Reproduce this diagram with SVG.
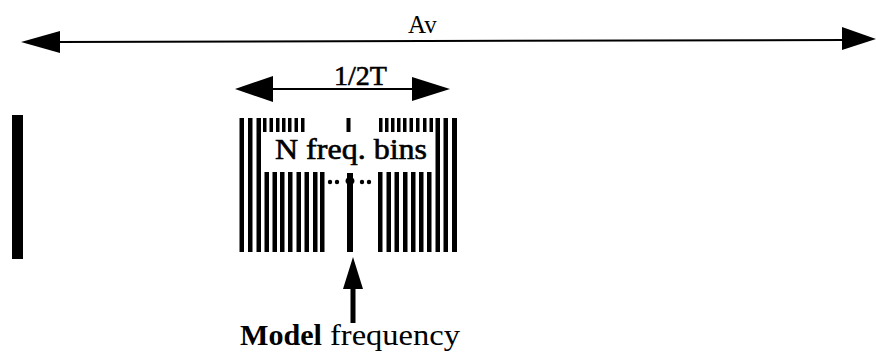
<svg xmlns="http://www.w3.org/2000/svg" width="876" height="354" viewBox="0 0 876 354">
<style>
.t{font-family:"Liberation Serif","Times New Roman",serif;fill:#000}
.h{stroke:#000;stroke-width:0.6}
.ln{stroke:#000;stroke-width:2;fill:none}
.b{fill:#000}
</style>
<rect width="876" height="354" fill="#fff"/>
<g id="connectors">
  <line class="ln" x1="58" y1="42" x2="845" y2="40"/>
  <polygon class="b" points="21,42 60,31 60,53"/>
  <polygon class="b" points="876,39 842,27 842,50"/>
  <line class="ln" x1="270" y1="89" x2="415" y2="89"/>
  <polygon class="b" points="235,89 273,76 273,102"/>
  <polygon class="b" points="450,89 412,77 412,101"/>
  <rect class="b" x="350.5" y="284" width="5" height="39"/>
  <polygon class="b" points="353,257 343,289 363,289"/>
</g>
<g id="av-label"><text class="t" x="408" y="33" font-size="25">Av</text></g>
<g id="half-t-label"><text class="t h" x="334" y="85" font-size="28">1/2T</text></g>
<g id="left-bar"><rect class="b" x="12" y="115" width="11" height="144"/></g>
<g id="bins">
  <!-- full-height outer bars -->
  <rect class="b" x="239.5" y="118" width="4.5" height="134"/>
  <rect class="b" x="248" y="118" width="4.5" height="134"/>
  <rect class="b" x="256.5" y="118" width="4.5" height="134"/>
  <rect class="b" x="435.5" y="118" width="4.5" height="134"/>
  <rect class="b" x="443.5" y="118" width="4.5" height="134"/>
  <rect class="b" x="452" y="118" width="5" height="134"/>
  <!-- top short bars -->
  <g>
    <rect class="b" x="263" y="118" width="3.5" height="14"/>
    <rect class="b" x="269.5" y="118" width="3.5" height="14"/>
    <rect class="b" x="276" y="118" width="3.5" height="14"/>
    <rect class="b" x="282" y="118" width="3.5" height="14"/>
    <rect class="b" x="288" y="118" width="3.5" height="14"/>
    <rect class="b" x="294.5" y="118" width="3.5" height="14"/>
    <rect class="b" x="301" y="118" width="3.5" height="14"/>
    <rect class="b" x="346.5" y="118" width="4" height="14"/>
    <rect class="b" x="379" y="118" width="3.5" height="14"/>
    <rect class="b" x="385" y="118" width="3.5" height="14"/>
    <rect class="b" x="391" y="118" width="3.5" height="14"/>
    <rect class="b" x="397" y="118" width="3.5" height="14"/>
    <rect class="b" x="403" y="118" width="3.5" height="14"/>
    <rect class="b" x="409.5" y="118" width="3.5" height="14"/>
    <rect class="b" x="416" y="118" width="3.5" height="14"/>
    <rect class="b" x="423" y="118" width="3.5" height="14"/>
    <rect class="b" x="429.5" y="118" width="3.5" height="14"/>
  </g>
  <!-- lower bars -->
  <g>
    <rect class="b" x="264.5" y="172" width="4.5" height="80"/>
    <rect class="b" x="272.5" y="172" width="4.5" height="80"/>
    <rect class="b" x="280" y="172" width="4.5" height="80"/>
    <rect class="b" x="288" y="172" width="4.5" height="80"/>
    <rect class="b" x="296.5" y="172" width="4.5" height="80"/>
    <rect class="b" x="304.5" y="172" width="4.5" height="80"/>
    <rect class="b" x="313" y="172" width="4.5" height="80"/>
    <rect class="b" x="320" y="172" width="4.5" height="80"/>
    <rect class="b" x="378" y="172" width="4.5" height="80"/>
    <rect class="b" x="386.5" y="172" width="4.5" height="80"/>
    <rect class="b" x="394.5" y="172" width="4.5" height="80"/>
    <rect class="b" x="403" y="172" width="4.5" height="80"/>
    <rect class="b" x="411" y="172" width="4.5" height="80"/>
    <rect class="b" x="419" y="172" width="4.5" height="80"/>
    <rect class="b" x="427" y="172" width="4.5" height="80"/>
  </g>
  <!-- model-frequency bar -->
  <rect class="b" x="347" y="173" width="6" height="79"/>
  <ellipse class="b" cx="350" cy="181" rx="4.5" ry="4"/>
  <!-- dots -->
  <circle class="b" cx="330" cy="182" r="2.2"/>
  <circle class="b" cx="337" cy="182" r="2.2"/>
  <circle class="b" cx="362" cy="182" r="2.2"/>
  <circle class="b" cx="369" cy="182" r="2.2"/>
  <text class="t h" x="275" y="159" font-size="29" textLength="152" lengthAdjust="spacingAndGlyphs">N freq. bins</text>
</g>
<g id="model-label">
  <text class="t" x="240" y="345" font-size="29"><tspan font-weight="bold" textLength="82" lengthAdjust="spacingAndGlyphs">Model</tspan></text>
  <text class="t" x="330" y="345" font-size="29" textLength="130" lengthAdjust="spacingAndGlyphs">frequency</text>
</g>
</svg>
